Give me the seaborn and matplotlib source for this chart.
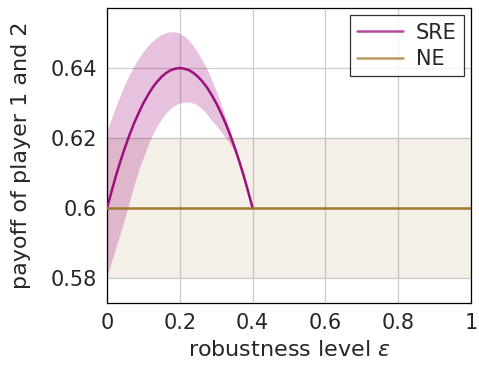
import pandas as pd
import matplotlib
matplotlib.use("Agg")
import matplotlib.pyplot as plt
import seaborn as sns

# --- data ---
eps_sre = [0.0, 0.0125, 0.025, 0.0375, 0.05, 0.0625, 0.075, 0.0875, 0.1,
           0.1125, 0.125, 0.1375, 0.15, 0.1625, 0.175, 0.1875, 0.2,
           0.2125, 0.225, 0.2375, 0.25, 0.2625, 0.275, 0.2875, 0.3,
           0.3125, 0.325, 0.3375, 0.35, 0.3625, 0.375, 0.3875, 0.4]
sre_mean = [0.6, 0.6048, 0.6094, 0.6136, 0.6175, 0.6211, 0.6244, 0.6273, 0.63,
            0.6323, 0.6344, 0.6361, 0.6375, 0.6386, 0.6394, 0.6398, 0.64,
            0.6398, 0.6394, 0.6386, 0.6375, 0.6361, 0.6344, 0.6323, 0.63,
            0.6273, 0.6244, 0.6211, 0.6175, 0.6136, 0.6094, 0.6048, 0.6]
sre_upper = [0.622, 0.6258, 0.6293, 0.6326, 0.6356, 0.6383, 0.6407, 0.6429, 0.6448,
             0.6464, 0.6477, 0.6488, 0.6496, 0.6501, 0.6504, 0.6503, 0.6499,
             0.6491, 0.6479, 0.6463, 0.6443, 0.642, 0.6396, 0.6366, 0.6335,
             0.63, 0.6262, 0.6224, 0.6183, 0.6141, 0.6097, 0.605, 0.6]
sre_lower = [0.5805, 0.5848, 0.589, 0.5932, 0.5975, 0.6022, 0.6068, 0.611, 0.6145,
             0.618, 0.621, 0.6235, 0.6255, 0.6272, 0.6285, 0.6294, 0.63,
             0.6303, 0.6303, 0.63, 0.6293, 0.6282, 0.6268, 0.625, 0.6236,
             0.622, 0.6202, 0.6184, 0.6163, 0.613, 0.609, 0.6046, 0.6]

eps_ne = [0.0, 1.0]
ne_mean = [0.6, 0.6]
ne_upper = [0.62, 0.62]
ne_lower = [0.58, 0.58]

x_ticks = [0, 0.2, 0.4, 0.6, 0.8, 1]
x_tick_labels = ["0", "0.2", "0.4", "0.6", "0.8", "1"]
y_ticks = [0.58, 0.6, 0.62, 0.64]
y_tick_labels = ["0.58", "0.6", "0.62", "0.64"]

SRE_COLOR = "#9e0f7c"
NE_COLOR = "#a37a2c"

sns.set_style("white")
plt.rcParams['font.family'] = ['DejaVu Sans']
plt.rcParams['mathtext.fontset'] = 'dejavusans'

df = pd.concat([
    pd.DataFrame({"eps": eps_sre, "payoff": sre_mean, "method": "SRE"}),
    pd.DataFrame({"eps": eps_ne, "payoff": ne_mean, "method": "NE"}),
], ignore_index=True)

fig = plt.figure(figsize=(4.79, 3.70), dpi=100)
ax = fig.add_axes([0.2234, 0.181, 0.760, 0.797])

# shaded bands
ax.fill_between(eps_ne, ne_lower, ne_upper, color=NE_COLOR, alpha=0.11, lw=0, zorder=1)
ax.fill_between(eps_sre, sre_lower, sre_upper, color=SRE_COLOR, alpha=0.25, lw=0, zorder=2)

sns.lineplot(data=df, x="eps", y="payoff", hue="method",
             palette={"SRE": SRE_COLOR, "NE": NE_COLOR},
             hue_order=["SRE", "NE"], linewidth=1.8, ax=ax, zorder=3)

ax.set_xlim(0, 1)
ax.set_ylim(0.5729, 0.6571)
ax.set_xticks(x_ticks)
ax.set_xticklabels(x_tick_labels)
ax.set_yticks(y_ticks)
ax.set_yticklabels(y_tick_labels)
ax.tick_params(axis="both", labelsize=15, direction="in", length=4,
               color="#888888", pad=7)
ax.grid(True, color="#cccccc", linewidth=0.9, zorder=0)
ax.set_axisbelow(True)
for s in ax.spines.values():
    s.set_color("black")
    s.set_linewidth(0.9)

ax.set_xlabel(r"robustness level $\varepsilon$", fontsize=16, labelpad=5)
ax.set_ylabel("payoff of player 1 and 2", fontsize=16, labelpad=14)

leg = ax.legend(loc="upper right", fontsize=15, frameon=True, fancybox=False,
                borderaxespad=0.35, handlelength=2.2, handletextpad=0.6,
                borderpad=0.35, labelspacing=0.3, edgecolor="black")
leg.get_frame().set_linewidth(0.9)
for h in leg.get_lines():
    h.set_alpha(0.75)

plt.savefig("out.png", dpi=100)
